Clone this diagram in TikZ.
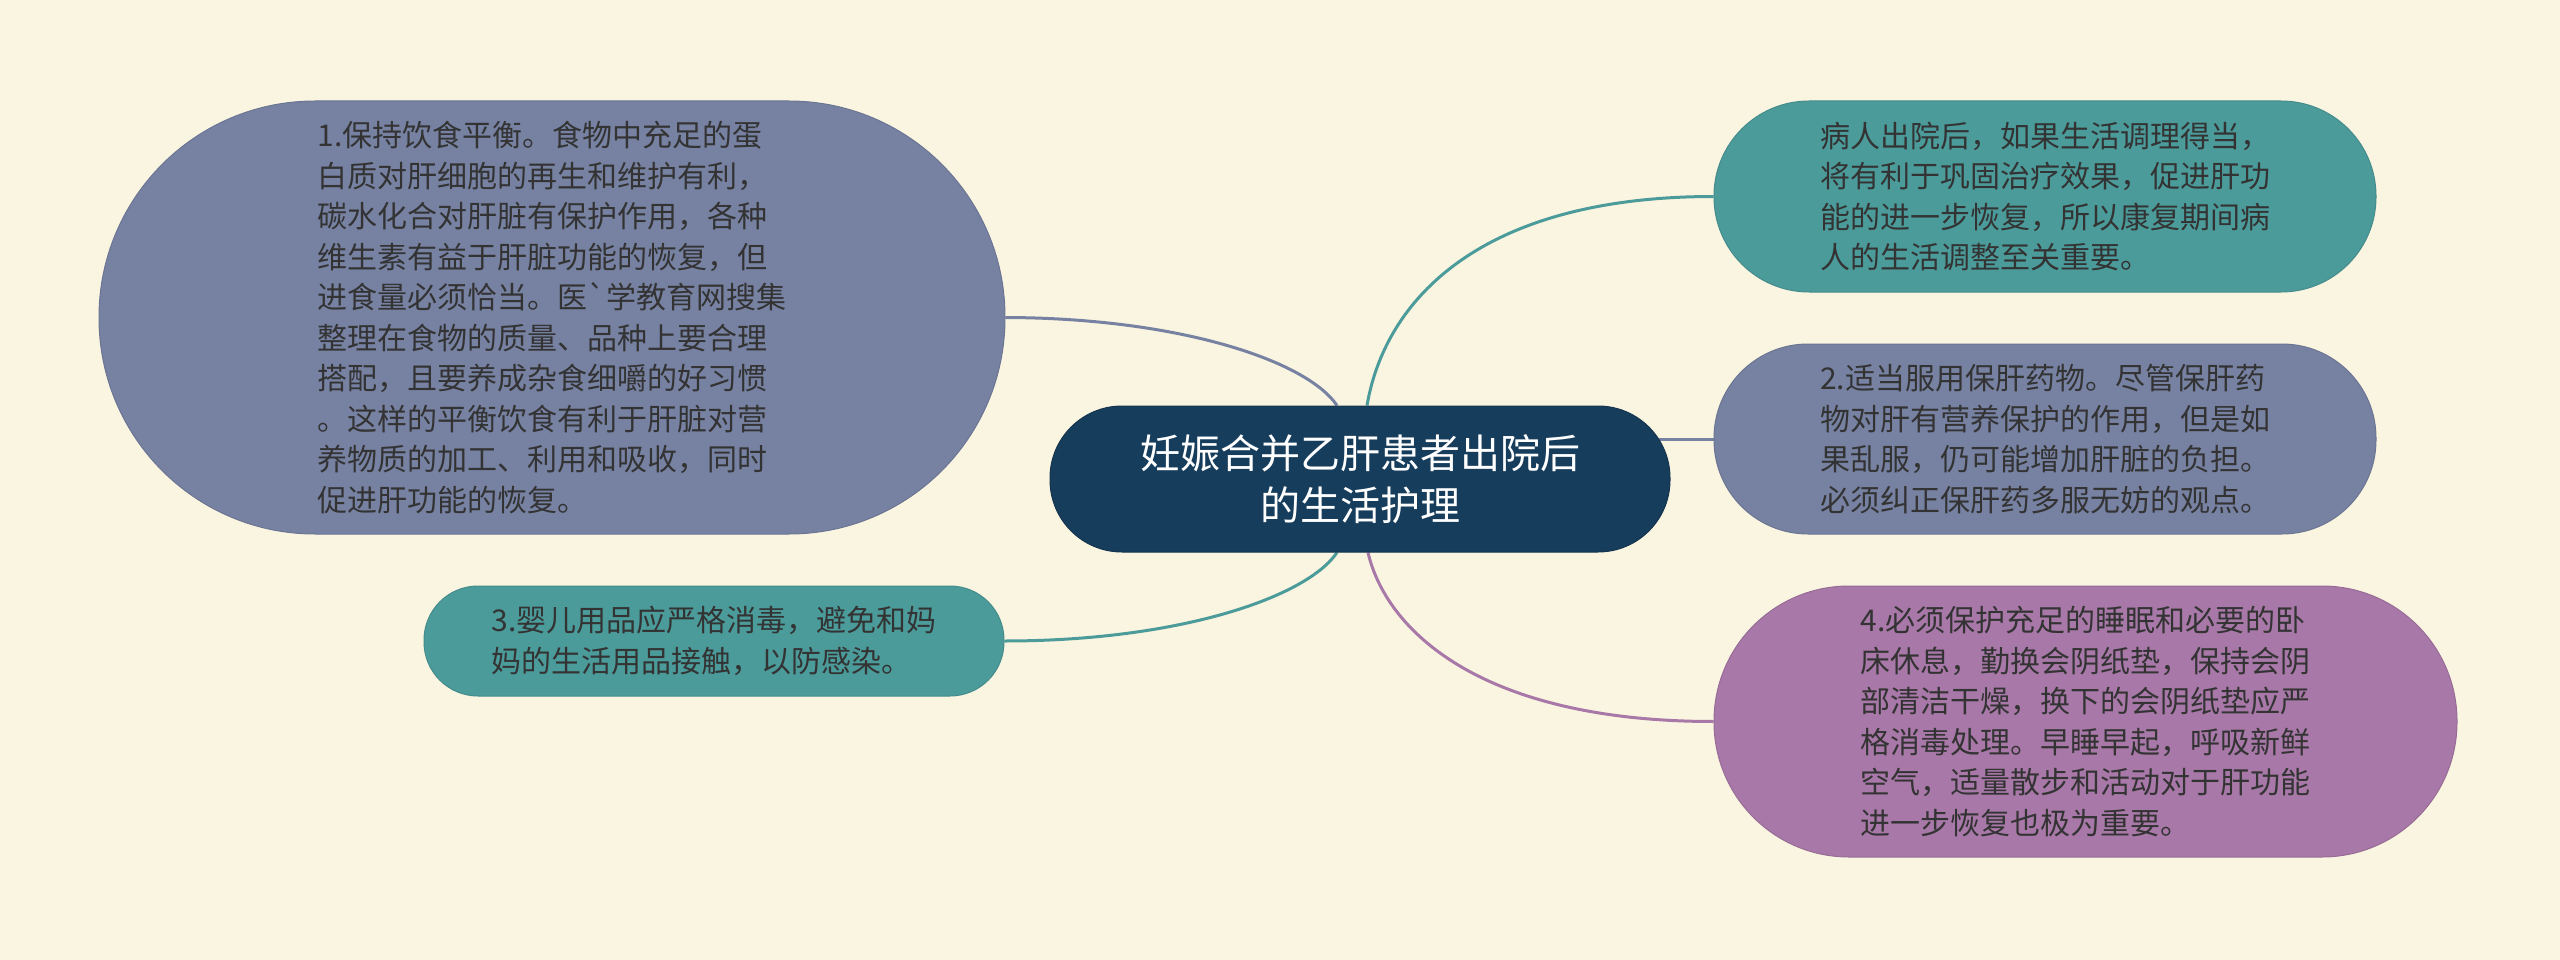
\documentclass[tikz,border=0pt]{standalone}
\usepackage{fontspec}
\setmainfont{Noto Sans CJK SC}
\newfontfamily\cjkplain{Noto Sans CJK SC}
\usetikzlibrary{calc}
\definecolor{bgc}{HTML}{FAF5E0}
\definecolor{slate}{HTML}{7782A3}
\definecolor{teal2}{HTML}{4C9B9B}
\definecolor{purp}{HTML}{A878A8}
\definecolor{navy}{HTML}{173D5C}
\definecolor{txt}{HTML}{333333}
\pgfdeclarelayer{bglayer}
\pgfdeclarelayer{edgelayer}
\pgfsetlayers{bglayer,edgelayer,main}
\tikzset{
  leaf/.style={inner sep=0pt, align=left, text=txt,
    font={\cjkplain\fontsize{30pt}{40.5pt}\selectfont}},
  conn/.style={line width=3pt},
}
\begin{document}
\begin{tikzpicture}[x=1pt,y=-1pt]
\begin{pgfonlayer}{bglayer}
\fill[bgc] (0,0) rectangle (2560,960);
\end{pgfonlayer}
\useasboundingbox (0,0) rectangle (2560,960);

\node[leaf, fill=navy, draw=navy!85!black, line width=1pt, text=white,
  minimum width=620pt, minimum height=146pt, rounded corners=72pt,
  align=center, font={\cjkplain\fontsize{40pt}{52pt}\selectfont}] (c) at (1360,479)
  {妊娠合并乙肝患者出院后\\的生活护理};

\node[leaf, fill=slate, draw=slate!90!black, line width=1pt,
  minimum width=906pt, minimum height=433pt, rounded corners=216pt] (n1) at (552,317.5)
  {1.保持饮食平衡。食物中充足的蛋\\白质对肝细胞的再生和维护有利，\\碳水化合对肝脏有保护作用，各种\\维生素有益于肝脏功能的恢复，但\\进食量必须恰当。医`学教育网搜集\\整理在食物的质量、品种上要合理\\搭配，且要养成杂食细嚼的好习惯\\。这样的平衡饮食有利于肝脏对营\\养物质的加工、利用和吸收，同时\\促进肝功能的恢复。};

\node[leaf, fill=teal2, draw=teal2!90!black, line width=1pt,
  minimum width=662pt, minimum height=191pt, rounded corners=95pt] (n2) at (2045,196.5)
  {病人出院后，如果生活调理得当，\\将有利于巩固治疗效果，促进肝功\\能的进一步恢复，所以康复期间病\\人的生活调整至关重要。};

\node[leaf, fill=slate, draw=slate!90!black, line width=1pt,
  minimum width=662pt, minimum height=190pt, rounded corners=94pt] (n3) at (2045,439)
  {2.适当服用保肝药物。尽管保肝药\\物对肝有营养保护的作用，但是如\\果乱服，仍可能增加肝脏的负担。\\必须纠正保肝药多服无妨的观点。};

\node[leaf, fill=purp, draw=purp!90!black, line width=1pt,
  minimum width=743pt, minimum height=271pt, rounded corners=135pt] (n4) at (2085.5,721.5)
  {4.必须保护充足的睡眠和必要的卧\\床休息，勤换会阴纸垫，保持会阴\\部清洁干燥，换下的会阴纸垫应严\\格消毒处理。早睡早起，呼吸新鲜\\空气，适量散步和活动对于肝功能\\进一步恢复也极为重要。};

\node[leaf, fill=teal2, draw=teal2!90!black, line width=1pt,
  minimum width=580pt, minimum height=110pt, rounded corners=54pt] (n5) at (714,641)
  {3.婴儿用品应严格消毒，避免和妈\\妈的生活用品接触，以防感染。};

\begin{pgfonlayer}{edgelayer}
\draw[conn, slate] ($(c.north)+(-23,0)$) .. controls (1307,361) and (1180,318) .. (n1.east);
\draw[conn, teal2] ($(c.north)+(7,0)$) .. controls (1385,300) and (1480,196.5) .. (n2.west);
\draw[conn, slate] ($(c.east |- n3.west)+(-40,0)$) -- (n3.west);
\draw[conn, teal2] ($(c.south)+(-23,0)$) .. controls (1307,597) and (1180,641) .. (n5.east);
\draw[conn, purp] ($(c.south)+(8,0)$) .. controls (1386,630) and (1480,721.5) .. (n4.west);
\end{pgfonlayer}
\end{tikzpicture}
\end{document}
